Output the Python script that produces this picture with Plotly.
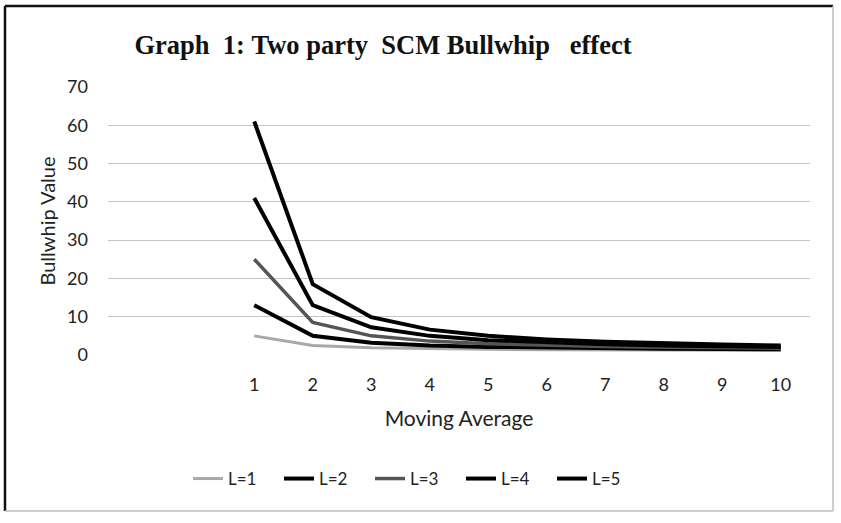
import plotly.graph_objects as go

moving_average = [1, 2, 3, 4, 5, 6, 7, 8, 9, 10]
series_names = ["L=1", "L=2", "L=3", "L=4", "L=5"]
l1 = [5.0, 2.5, 1.889, 1.625, 1.48, 1.389, 1.327, 1.281, 1.247, 1.22]
l2 = [13.0, 5.0, 3.222, 2.5, 2.12, 1.889, 1.735, 1.625, 1.543, 1.48]
l3 = [25.0, 8.5, 5.0, 3.625, 2.92, 2.5, 2.224, 2.031, 1.889, 1.78]
l4 = [41.0, 13.0, 7.222, 5.0, 3.88, 3.222, 2.796, 2.5, 2.284, 2.12]
l5 = [61.0, 18.5, 9.889, 6.625, 5.0, 4.056, 3.449, 3.031, 2.728, 2.5]
series_values = [l1, l2, l3, l4, l5]
y_ticks = [0, 10, 20, 30, 40, 50, 60, 70]

colors = ["#a8a8a8", "#000000", "#555555", "#000000", "#000000"]
widths = [3, 4, 3.5, 4, 4]

W, H = 841, 523
PL, PR, PT, PB = 108, 810, 87, 355

fig = go.Figure()
for name, vals, c, w in zip(series_names, series_values, colors, widths):
    fig.add_trace(go.Scatter(x=moving_average, y=vals, name=name, mode="lines",
                             line=dict(color=c, width=w)))

def px2x(px):
    return (px - PL) / (PR - PL)

def px2y(py):
    return (PB - py) / (PB - PT)

font_family = "Lato, 'Open Sans', sans-serif"
fig.update_layout(
    width=W, height=H,
    margin=dict(l=PL, r=W - PR, t=PT, b=H - PB, pad=0),
    paper_bgcolor="white", plot_bgcolor="white",
    font=dict(family=font_family, size=17, color="#222222"),
    title=dict(text="<b>Graph\u00a0\u00a01:\u00a0Two\u00a0party\u00a0\u00a0SCM Bullwhip\u00a0\u00a0\u00a0effect</b>",
               font=dict(family="'Liberation Serif', 'Times New Roman', serif", size=26.5, color="#111111"),
               xref="container", yref="container", x=383 / W, y=1 - 45 / H,
               xanchor="center", yanchor="middle"),
    xaxis=dict(range=[-1.5, 10.5], tickmode="array", tickvals=moving_average,
               ticktext=[str(v) for v in moving_average], showgrid=False, zeroline=False,
               showline=False, ticks="", ticklabelstandoff=17,
               tickfont=dict(size=18, color="#222222"),
               title=dict(text="Moving Average", font=dict(size=21, color="#222222"), standoff=17)),
    yaxis=dict(range=[0, 70], tickmode="array", tickvals=y_ticks, showgrid=True,
               gridcolor="#c4c4c4", gridwidth=1, zeroline=False, showline=False, ticks="",
               ticklabelstandoff=19, tickfont=dict(size=18, color="#222222"),
               title=dict(text="Bullwhip Value", font=dict(size=20, color="#222222"), standoff=6)),
    legend=dict(orientation="h", x=px2x(188), y=px2y(479), xanchor="left", yanchor="middle",
                font=dict(size=17, color="#222222"), bgcolor="rgba(0,0,0,0)",
                entrywidth=46, entrywidthmode="pixels", itemwidth=30, tracegroupgap=0),
    showlegend=True,
)

# outer frame
fig.add_shape(type="line", xref="paper", yref="paper", x0=px2x(5), x1=px2x(5),
              y0=px2y(6), y1=px2y(511), line=dict(color="#111111", width=2.5))
fig.add_shape(type="line", xref="paper", yref="paper", x0=px2x(5), x1=px2x(833),
              y0=px2y(6), y1=px2y(6), line=dict(color="#111111", width=2.5))
fig.add_shape(type="line", xref="paper", yref="paper", x0=px2x(833), x1=px2x(833),
              y0=px2y(6), y1=px2y(511), line=dict(color="#bdbdbd", width=1.5))
fig.add_shape(type="line", xref="paper", yref="paper", x0=px2x(5), x1=px2x(833),
              y0=px2y(511), y1=px2y(511), line=dict(color="#bdbdbd", width=1.5))

fig.write_html("out.html", config={"displayModeBar": False},
               post_script="document.body.style.margin='0';document.body.style.padding='0';")
